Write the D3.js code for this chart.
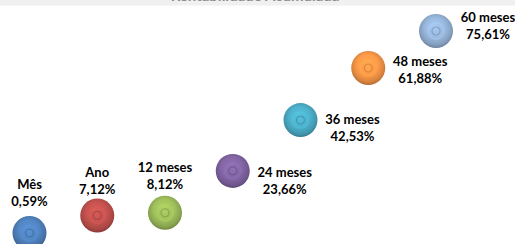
<!DOCTYPE html>
<html>
<head>
<meta charset="utf-8">
<script src="https://cdn.jsdelivr.net/npm/d3@7"></script>
<style>
  html, body { margin: 0; padding: 0; background: #fff; }
  svg { display: block; }
</style>
</head>
<body>
<div id="chart"></div>
<script>
// === DATA ===
const periods = ["Mês", "Ano", "12 meses", "24 meses", "36 meses", "48 meses", "60 meses"];
const returns = [0.59, 7.12, 8.12, 23.66, 42.53, 61.88, 75.61];
const colors = ["#4f81bd", "#c0504d", "#9bbb59", "#8064a2", "#4bacc6", "#f79646", "#95b3d7"];
const titleText = "Rentabilidade Acumulada";

// small hand nudges of the data labels (like dragged labels in the source)
const labelNudge = [-3, 2.5, 0, 6, 3.5, -2, -9.5];

// === LAYOUT ===
const W = 515, H = 244;
const r = 17;

const svg = d3.select("#chart").append("svg")
  .attr("width", W)
  .attr("height", H)
  .style("font-family", "Lato, 'Open Sans', sans-serif");

// grey header strip with the (clipped) title
svg.append("rect")
  .attr("x", 0).attr("y", 0)
  .attr("width", W).attr("height", 5.5)
  .attr("fill", "#f0f0f0");

svg.append("text")
  .attr("x", 255).attr("y", 0.5)
  .attr("text-anchor", "middle")
  .style("font-size", "15px")
  .style("font-weight", 700)
  .style("fill", "#8c8c8c")
  .text(titleText);

const x = d3.scalePoint().domain(periods).range([29.5, 436]);
const y = d3.scaleLinear().domain([0, 80]).range([234.6, 19.2]);

const rows = periods.map((p, i) => ({ p, v: returns[i], c: colors[i], i }));

// gradients for the 3D bubble look
const defs = svg.append("defs");
rows.forEach(d => {
  const base = d3.color(d.c);
  const g = defs.append("radialGradient")
    .attr("id", "grad" + d.i)
    .attr("cx", "50%").attr("cy", "45%").attr("r", "55%")
    .attr("fx", "45%").attr("fy", "35%");
  g.append("stop").attr("offset", "0%").attr("stop-color", base.brighter(0.35));
  g.append("stop").attr("offset", "55%").attr("stop-color", base.brighter(0.1));
  g.append("stop").attr("offset", "85%").attr("stop-color", base.darker(0.35));
  g.append("stop").attr("offset", "100%").attr("stop-color", base.darker(0.9));
});

const bub = svg.append("g").selectAll("g.bubble")
  .data(rows)
  .join("g")
  .attr("class", "bubble")
  .attr("transform", d => `translate(${x(d.p)},${y(d.v)})`);

bub.append("circle")
  .attr("r", r)
  .attr("fill", d => `url(#grad${d.i})`);

// inner ring at the centre
bub.append("circle")
  .attr("r", 4)
  .attr("fill", "none")
  .attr("stroke", d => d3.color(d.c).darker(0.6))
  .attr("stroke-width", 1.2)
  .attr("opacity", 0.7);

bub.append("circle")
  .attr("r", 8)
  .attr("fill", "none")
  .attr("stroke", d => d3.color(d.c).brighter(0.5))
  .attr("stroke-width", 1.5)
  .attr("opacity", 0.35);

// === LABELS ===
const fmt = v => v.toFixed(2).replace(".", ",") + "%";

const lab = svg.append("g").selectAll("text")
  .data(rows)
  .join("text")
  .attr("text-anchor", "middle")
  .style("font-size", "13px")
  .style("font-weight", 700)
  .style("fill", "#000");

lab.each(function (d) {
  const top = d.i < 3;
  const lx = top ? x(d.p) : x(d.p) + 52;
  const ly = (top ? y(d.v) - 41 : y(d.v)) + labelNudge[d.i];
  const t = d3.select(this);
  t.append("tspan").attr("x", lx).attr("y", ly).text(d.p);
  t.append("tspan").attr("x", lx).attr("y", ly + 17).text(fmt(d.v));
});
</script>
</body>
</html>
